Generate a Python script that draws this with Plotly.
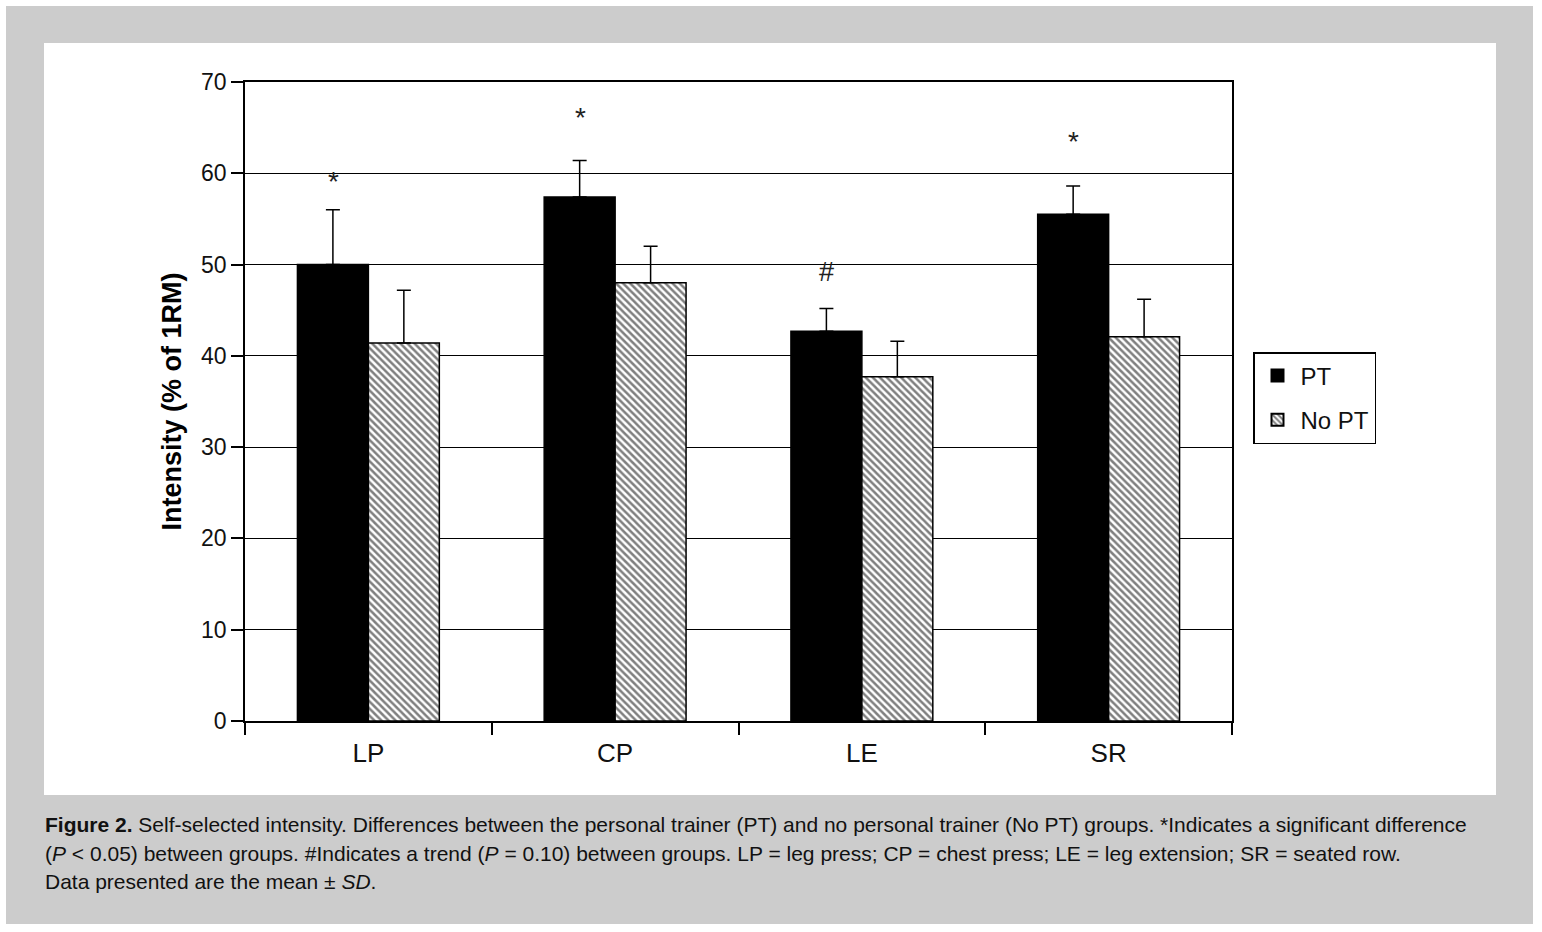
import plotly.graph_objects as go

categories = ["LP", "CP", "LE", "SR"]
pt_mean = [50.0, 57.4, 42.7, 55.5]
pt_sd = [6.0, 4.0, 2.5, 3.1]
nopt_mean = [41.4, 48.0, 37.7, 42.1]
nopt_sd = [5.8, 4.0, 3.9, 4.1]
sig_marks = ["*", "*", "#", "*"]
sig_y = [59.6, 66.7, 49.2, 64.0]
y_ticks = [0, 10, 20, 30, 40, 50, 60, 70]

W, H = 1542, 932
L, R, T, B = 245, 1232, 82, 721
PW, PH = R - L, B - T

def fx(px):
    return (px - L) / PW

def fy(py):
    return (B - py) / PH

FONT = "Liberation Sans, Arial, sans-serif"

fig = go.Figure()
fig.add_trace(go.Bar(
    name="PT", x=categories, y=pt_mean, legendgroup="pt",
    marker=dict(color="black", line=dict(color="black", width=1.5)),
    error_y=dict(type="data", array=pt_sd, arrayminus=[0] * len(pt_sd), symmetric=False,
                 color="black", thickness=1.5, width=7),
))
fig.add_trace(go.Bar(
    name="No PT", x=categories, y=nopt_mean, legendgroup="nopt",
    marker=dict(color="white", line=dict(color="black", width=1.5),
                pattern=dict(shape="\\", fgcolor="black", bgcolor="white", size=5, solidity=0.5)),
    error_y=dict(type="data", array=nopt_sd, arrayminus=[0] * len(nopt_sd), symmetric=False,
                 color="black", thickness=1.5, width=7),
))

annotations = []
for c, m, yv in zip(categories, sig_marks, sig_y):
    annotations.append(dict(
        x=c, y=yv, xref="x", yref="y", text=m, showarrow=False,
        xshift=-35, yshift=-5 if m == "*" else 0,
        font=dict(family=FONT, size=28 if m == "*" else 27, color="#222"),
        yanchor="middle", xanchor="center",
    ))

annotations.append(dict(
    x=fx(171), y=0.5, xref="paper", yref="paper", text="<b>Intensity (% of 1RM)</b>",
    textangle=-90, showarrow=False, font=dict(family=FONT, size=27, color="black"),
    xanchor="center", yanchor="middle",
))

caption_lines = [
    "<b>Figure 2.</b> Self-selected intensity. Differences between the personal trainer (PT) and no personal trainer (No PT) groups. *Indicates a significant difference",
    "(<i>P</i> &lt; 0.05) between groups. #Indicates a trend (<i>P</i> = 0.10) between groups. LP = leg press; CP = chest press; LE = leg extension; SR = seated row.",
    "Data presented are the mean ± <i>SD</i>.",
]
caption_y = [825, 853, 881]
for line, py in zip(caption_lines, caption_y):
    annotations.append(dict(
        x=fx(43), y=fy(py), xref="paper", yref="paper", text=line, showarrow=False,
        xanchor="left", yanchor="middle", align="left",
        font=dict(family=FONT, size=21, color="#111"),
    ))

shapes = [
    dict(type="rect", xref="paper", yref="paper", x0=fx(44), x1=fx(1496), y0=fy(795), y1=fy(43),
         fillcolor="white", line=dict(width=0), layer="below"),
    dict(type="rect", xref="paper", yref="paper", x0=fx(0), x1=fx(W), y0=fy(6), y1=fy(0),
         fillcolor="white", line=dict(width=0), layer="below"),
    dict(type="rect", xref="paper", yref="paper", x0=fx(0), x1=fx(W), y0=fy(H), y1=fy(924),
         fillcolor="white", line=dict(width=0), layer="below"),
    dict(type="rect", xref="paper", yref="paper", x0=fx(0), x1=fx(6), y0=fy(H), y1=fy(0),
         fillcolor="white", line=dict(width=0), layer="below"),
    dict(type="rect", xref="paper", yref="paper", x0=fx(1533), x1=fx(W), y0=fy(H), y1=fy(0),
         fillcolor="white", line=dict(width=0), layer="below"),
]

fig.update_layout(
    width=W, height=H,
    margin=dict(l=L, r=W - R, t=T, b=H - B, pad=0),
    paper_bgcolor="#cccccc", plot_bgcolor="white",
    barmode="group", bargap=0.425, bargroupgap=0,
    font=dict(family=FONT, color="black"),
    showlegend=True,
    legend=dict(x=fx(1253), y=fy(352), xanchor="left", yanchor="top",
                bordercolor="black", borderwidth=1.5, bgcolor="white",
                font=dict(family=FONT, size=24, color="#111"),
                itemsizing="constant", itemwidth=36, tracegroupgap=10),
    annotations=annotations,
    shapes=shapes,
    xaxis=dict(type="category", tickson="boundaries", ticks="outside", ticklen=12,
               tickwidth=1.5, tickcolor="black", showline=True, linecolor="black",
               linewidth=1.5, mirror=True, showgrid=False, ticklabelstandoff=8,
               tickfont=dict(family=FONT, size=26, color="#111")),
    yaxis=dict(range=[0, 70], tickvals=y_ticks, ticks="outside", ticklen=12,
               tickwidth=1.5, tickcolor="black", showline=True, linecolor="black",
               linewidth=1.5, mirror=True, showgrid=True, gridcolor="black",
               gridwidth=1.2, zeroline=False,
               tickfont=dict(family=FONT, size=23, color="#111")),
)

fig.write_html("out.html")
